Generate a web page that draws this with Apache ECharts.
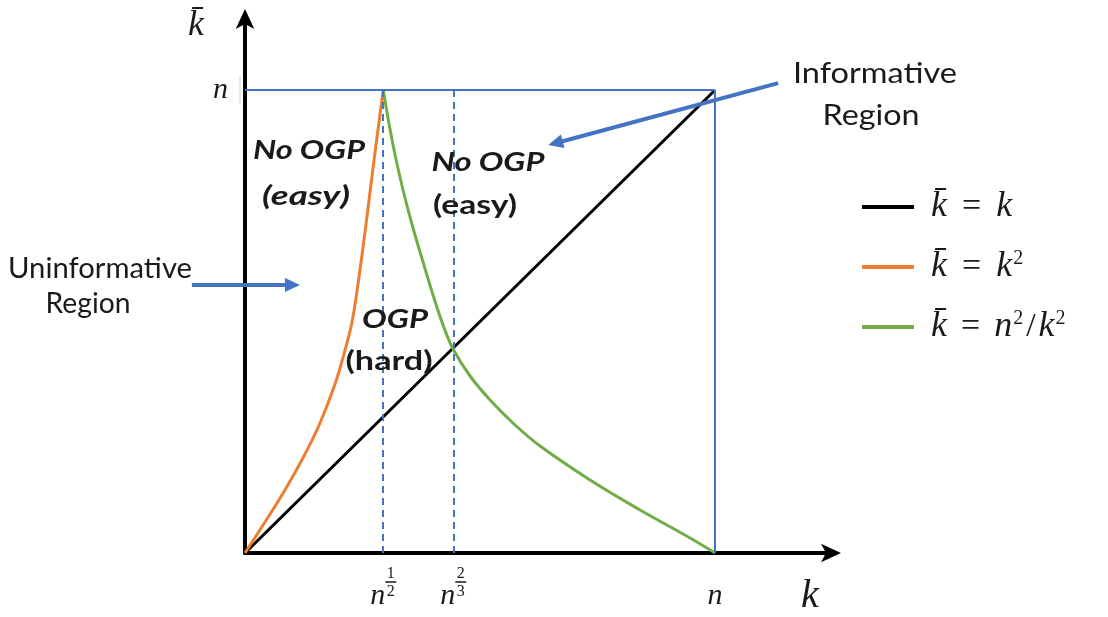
<!DOCTYPE html>
<html>
<head>
<meta charset="utf-8">
<script src="https://cdn.jsdelivr.net/npm/echarts@6/dist/echarts.min.js"></script>
<style>
html,body{margin:0;padding:0;background:#fff;}
#chart{width:1108px;height:617px;}
</style>
</head>
<body>
<div id="chart"></div>
<script>
// Schematic units: n = 1 on both axes
const xTickValues = [0.294, 0.443, 1];
const xTickLabels = [
  '{h|n}{a|1}\n{h2|n}{bar| }\n{n|n}{b|2}',
  '{h|n}{a|2}\n{h2|n}{bar| }\n{n|n}{b|3}',
  '{e| }\n{e2| }\n{n|n}'
];
const yTickValues = [1];
const yTickLabels = ['n'];

const seriesNames = ['diag', 'square', 'inverse'];
const legendLabels = {
  diag: '{i|k̄}{e|=}{i|k}',
  square: '{i|k̄}{e|=}{i|k}{s|2}',
  inverse: '{i|k̄}{e2|=}{i|n}{s|2}{t|/}{i|k}{s|2}'
};

const diagData = [[0, 0], [1, 1]];
const squareData = [
  [0, 0], [0.0426, 0.0670], [0.0851, 0.1361], [0.1277, 0.2138], [0.1596, 0.2808],
  [0.1915, 0.3650], [0.2128, 0.4384], [0.2277, 0.4989], [0.2404, 0.5810],
  [0.2553, 0.6933], [0.2745, 0.8488], [0.294, 1.0]
];
const inverseData = [
  [0.294, 1.0], [0.3149, 0.8812], [0.3362, 0.7840], [0.3574, 0.7019], [0.3787, 0.6285],
  [0.4000, 0.5572], [0.4213, 0.4924], [0.4426, 0.4406], [0.4787, 0.3823], [0.5213, 0.3305],
  [0.5745, 0.2765], [0.6277, 0.2311], [0.7340, 0.1577], [0.8404, 0.0929], [0.9468, 0.0324], [1.0, 0]
];
const boxLines = [[[0, 1], [1, 1]], [[1, 0], [1, 1]]];
const dashedLines = [[[0.294, 0], [0.294, 1]], [[0.443, 0], [0.443, 1]]];
const arrowLines = [[[-0.113, 0.579], [0.117, 0.579]], [[1.134, 1.015], [0.645, 0.881]]];

const BLUE = '#4472C4';
const INK = '#1a1a1a';
const mathFont = '"Liberation Serif", "DejaVu Serif", serif';
const textFont = 'Lato, "Open Sans", sans-serif';

function toPairs(lines) {
  return lines.map(l => [{ coord: l[0] }, { coord: l[1] }]);
}

const chart = echarts.init(document.getElementById('chart'));
chart.setOption({
  animation: false,
  backgroundColor: '#fff',
  grid: { left: 245, top: 15, width: 590, height: 538, containLabel: false },
  xAxis: {
    type: 'value', min: 0, max: 1.255,
    splitLine: { show: false },
    axisLine: { lineStyle: { color: '#000', width: 4 }, symbol: ['none', 'arrow'], symbolSize: [14, 20], symbolOffset: [0, 6] },
    axisTick: { show: false },
    axisLabel: {
      customValues: xTickValues,
      margin: 15,
      formatter: function (v) {
        let best = 0;
        xTickValues.forEach((t, i) => { if (Math.abs(t - v) < Math.abs(xTickValues[best] - v)) best = i; });
        return xTickLabels[best];
      },
      rich: {
        h: { fontFamily: mathFont, fontStyle: 'italic', fontSize: 30, color: 'rgba(0,0,0,0)', lineHeight: 12 },
        h2: { fontFamily: mathFont, fontStyle: 'italic', fontSize: 30, color: 'rgba(0,0,0,0)', lineHeight: 4 },
        a: { fontFamily: mathFont, fontSize: 16, color: INK, lineHeight: 12, width: 11, align: 'center' },
        bar: { width: 11, height: 1.5, lineHeight: 4, backgroundColor: INK, fontSize: 2 },
        n: { fontFamily: mathFont, fontStyle: 'italic', fontSize: 30, color: INK, lineHeight: 24 },
        b: { fontFamily: mathFont, fontSize: 16, color: INK, lineHeight: 12, width: 11, align: 'center', verticalAlign: 'top' },
        e: { fontSize: 10, lineHeight: 12, color: 'rgba(0,0,0,0)' },
        e2: { fontSize: 2, lineHeight: 4, color: 'rgba(0,0,0,0)' }
      }
    }
  },
  yAxis: {
    type: 'value', min: 0, max: 1.162,
    splitLine: { show: false },
    axisLine: { lineStyle: { color: '#000', width: 4 }, symbol: ['none', 'arrow'], symbolSize: [14, 20], symbolOffset: [0, 6] },
    axisTick: { show: false },
    axisLabel: {
      customValues: yTickValues,
      margin: 17,
      formatter: function () { return yTickLabels[0]; },
      fontFamily: mathFont, fontStyle: 'italic', fontSize: 30, color: INK
    }
  },
  legend: {
    orient: 'vertical',
    left: 857, top: 184,
    itemWidth: 52, itemHeight: 4, itemGap: 24,
    icon: 'rect',
    data: seriesNames,
    formatter: function (name) { return legendLabels[name]; },
    textStyle: {
      fontFamily: mathFont, fontSize: 34, color: INK, lineHeight: 36, padding: [0, 0, 0, 12],
      rich: {
        i: { fontFamily: mathFont, fontStyle: 'italic', fontSize: 36, color: INK, lineHeight: 36 },
        e: { fontFamily: mathFont, fontSize: 34, color: INK, padding: [0, 15, 0, 15], lineHeight: 36 },
        e2: { fontFamily: mathFont, fontSize: 34, color: INK, padding: [0, 14, 0, 14], lineHeight: 36 },
        s: { fontFamily: mathFont, fontSize: 20, color: INK, lineHeight: 20, verticalAlign: 'top', padding: [0, 0, 0, 1] },
        t: { fontFamily: mathFont, fontSize: 34, color: INK, lineHeight: 36, padding: [0, 3, 0, 3] }
      }
    }
  },
  series: [
    {
      name: 'box', type: 'line', data: [], clip: false, silent: true,
      markLine: {
        silent: true, symbol: ['none', 'none'], label: { show: false },
        lineStyle: { color: BLUE, width: 2, type: 'solid' },
        data: toPairs(boxLines)
      }
    },
    {
      name: 'dashed', type: 'line', data: [], clip: false, silent: true,
      markLine: {
        silent: true, symbol: ['none', 'none'], label: { show: false },
        lineStyle: { color: BLUE, width: 2, type: [7, 5] },
        data: toPairs(dashedLines)
      }
    },
    {
      name: 'diag', type: 'line', data: diagData, symbol: 'none',
      itemStyle: { color: '#000' }, lineStyle: { color: '#000', width: 3 }, z: 3
    },
    {
      name: 'square', type: 'line', data: squareData, symbol: 'none', smooth: 0.35,
      itemStyle: { color: '#ED7D31' }, lineStyle: { color: '#ED7D31', width: 3 }, z: 3
    },
    {
      name: 'inverse', type: 'line', data: inverseData, symbol: 'none', smooth: 0.4,
      itemStyle: { color: '#70AD47' }, lineStyle: { color: '#70AD47', width: 3 }, z: 3
    }
  ]
});

// ---- annotations (text + arrows) ----
const measureCtx = document.createElement('canvas').getContext('2d');
function fitText(str, cx, cy, font, targetWidth) {
  measureCtx.font = font;
  const w = measureCtx.measureText(str).width;
  return {
    type: 'text', x: cx, y: cy, scaleX: w > 0 ? targetWidth / w : 1, z: 10,
    style: { text: str, font: font, fill: INK, align: 'center', verticalAlign: 'middle' }
  };
}
const bi = 'italic bold 26px ' + textFont;
const bn = 'bold 26px ' + textFont;
const rg = '28px ' + textFont;
const graphics = [
  fitText('No OGP', 309, 151, bi, 112),
  fitText('(easy)', 306, 197, bi, 88),
  fitText('No OGP', 488, 163, bi, 113),
  fitText('(easy)', 475, 206, bn, 84),
  fitText('OGP', 395, 320, bi, 66),
  fitText('(hard)', 389, 362, bn, 87),
  fitText('Uninformative', 100, 269, rg, 184),
  fitText('Region', 88, 304, rg, 85),
  fitText('Informative', 875, 74, rg, 164),
  fitText('Region', 871, 116, rg, 97),
  { type: 'text', x: 810, y: 596, z: 10, style: { text: 'k', font: 'italic 40px ' + mathFont, fill: INK, align: 'center', verticalAlign: 'middle' } },
  { type: 'text', x: 196, y: 26, z: 10, style: { text: 'k̄', font: 'italic 36px ' + mathFont, fill: INK, align: 'center', verticalAlign: 'middle' } },
  { type: 'line', z: 1, shape: { x1: 240, y1: 76, x2: 240, y2: 104 }, style: { stroke: '#d0d0d0', lineWidth: 1 } }
];
arrowLines.forEach(function (l) {
  const p0 = chart.convertToPixel({ gridIndex: 0 }, l[0]);
  const p1 = chart.convertToPixel({ gridIndex: 0 }, l[1]);
  const dx = p1[0] - p0[0], dy = p1[1] - p0[1];
  const len = Math.sqrt(dx * dx + dy * dy);
  const ux = dx / len, uy = dy / len;
  const headL = 15, headW = 7;
  const bx = p1[0] - ux * headL, by = p1[1] - uy * headL;
  graphics.push({
    type: 'line', z: 9,
    shape: { x1: p0[0], y1: p0[1], x2: bx + ux * 2, y2: by + uy * 2 },
    style: { stroke: BLUE, lineWidth: 4 }
  });
  graphics.push({
    type: 'polygon', z: 9,
    shape: { points: [[p1[0], p1[1]], [bx - uy * headW, by + ux * headW], [bx + uy * headW, by - ux * headW]] },
    style: { fill: BLUE }
  });
});
chart.setOption({ graphic: graphics });
</script>
</body>
</html>
